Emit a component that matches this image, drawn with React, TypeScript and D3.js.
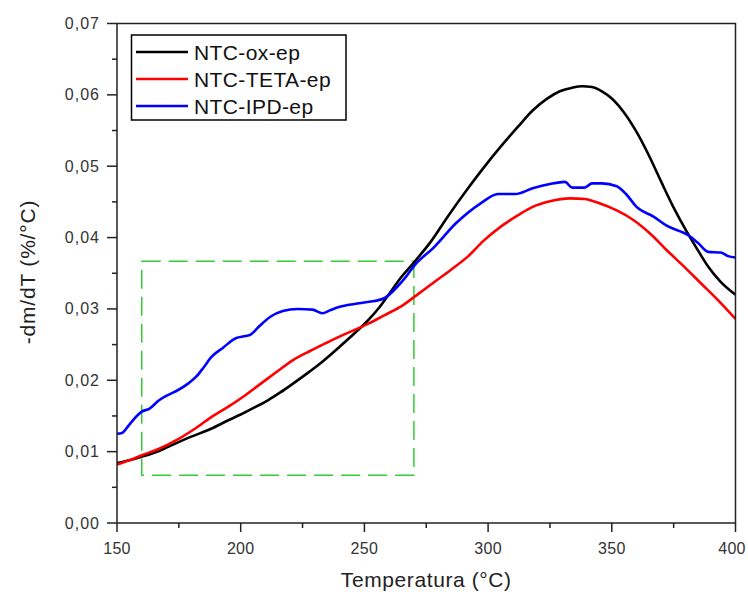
import React from "react";
import * as d3 from "d3";

const seriesNames = ["NTC-ox-ep", "NTC-TETA-ep", "NTC-IPD-ep"];
const seriesColors = ["#000000", "#ff0000", "#0000ff"];

const oxT = [150,155,160,167,174,180,188,195,200,205,211,216,221,227,233,240,247,252,256,260,265,270,277,284,291,298,305,312,318,324,329,334,338,342,346,350,355,360,365,370,375,380,385,389,394,400];
const oxY = [0.0084,0.0088,0.0093,0.0101,0.0112,0.0121,0.0132,0.0144,0.0152,0.0161,0.0172,0.0183,0.0195,0.0210,0.0226,0.0247,0.0269,0.0286,0.0302,0.0321,0.0345,0.0365,0.0395,0.0431,0.0465,0.0497,0.0527,0.0555,0.0578,0.0595,0.0605,0.0610,0.0612,0.0611,0.0605,0.0595,0.0575,0.0548,0.0515,0.0478,0.0442,0.0410,0.0381,0.0359,0.0338,0.0320];

const tetaT = [150,155,160,167,174,181,188,195,201,208,215,221,228,235,241,247,252,258,265,271,278,285,292,298,305,312,318,325,333,339,345,352,359,366,372,379,386,393,400];
const tetaY = [0.0082,0.0088,0.0095,0.0104,0.0116,0.0131,0.0148,0.0163,0.0177,0.0195,0.0213,0.0228,0.0241,0.0253,0.0263,0.0272,0.0280,0.0291,0.0304,0.0319,0.0337,0.0355,0.0374,0.0395,0.0415,0.0431,0.0443,0.0451,0.0455,0.0454,0.0448,0.0438,0.0424,0.0404,0.0383,0.0360,0.0336,0.0312,0.0286];

const ipdT = [150,152,155,158,160,163,167,171,174,179,182,185,188,193,198,202,204,207,212,217,223,229,233,236,240,246,252,258,263,267,270,278,287,297,304,311,318,325,331,334,339,342,346,352,356,360,367,372,381,385,389,394,397,400];
const ipdY = [0.0125,0.0126,0.0138,0.0150,0.0156,0.0160,0.0172,0.0180,0.0185,0.0196,0.0205,0.0218,0.0232,0.0246,0.0259,0.0262,0.0264,0.0274,0.0289,0.0297,0.0300,0.0299,0.0294,0.0298,0.0303,0.0307,0.0310,0.0315,0.0330,0.0346,0.0360,0.0386,0.0420,0.0448,0.0461,0.0461,0.0469,0.0475,0.0478,0.0470,0.0470,0.0476,0.0476,0.0472,0.0460,0.0443,0.0429,0.0417,0.0403,0.0392,0.0380,0.0379,0.0374,0.0372];

const xTicks = [150, 200, 250, 300, 350, 400];
const xMinorTicks = [175, 225, 275, 325, 375];
const yTicks = [0, 0.01, 0.02, 0.03, 0.04, 0.05, 0.06, 0.07];
const yMinorTicks = [0.005, 0.015, 0.025, 0.035, 0.045, 0.055, 0.065];
const zoomBoxX = [160, 270];
const zoomBoxY = [0.00668, 0.03668];

const xLabel = "Temperatura (°C)";
const yLabel = "-dm/dT (%/°C)";

export default function App() {
  const W = 748, H = 592;
  const left = 117, right = 735.5, top = 23.5, bottom = 523;
  const x = d3.scaleLinear().domain([150, 400]).range([left, right]);
  const y = d3.scaleLinear().domain([0, 0.07]).range([bottom, top]);
  const line = d3
    .line<[number, number]>()
    .x((d) => x(d[0]))
    .y((d) => y(d[1]))
    .curve(d3.curveMonotoneX);

  const series = [
    oxT.map((t, i) => [t, oxY[i]] as [number, number]),
    tetaT.map((t, i) => [t, tetaY[i]] as [number, number]),
    ipdT.map((t, i) => [t, ipdY[i]] as [number, number]),
  ];
  const fmt = (v: number) => v.toFixed(2).replace(".", ",");
  const axisColor = "#222";
  const font = "Arial, 'Liberation Sans', sans-serif";

  return (
    <svg
      width={W}
      height={H}
      style={{ position: "absolute", left: 0, top: 0, background: "#fff" }}
      fontFamily={font}
    >
      <defs>
        <clipPath id="plotClip">
          <rect x={left} y={top} width={right - left} height={bottom - top} />
        </clipPath>
      </defs>
      <rect width={W} height={H} fill="#fff" />

      {/* zoom box */}
      <rect
        x={x(zoomBoxX[0])}
        y={y(zoomBoxY[1])}
        width={x(zoomBoxX[1]) - x(zoomBoxX[0])}
        height={y(zoomBoxY[0]) - y(zoomBoxY[1])}
        fill="none"
        stroke="#33cc33"
        strokeWidth={1.5}
        strokeDasharray="19 8"
      />

      {/* curves */}
      <g clipPath="url(#plotClip)">
        {series.map((s, i) => (
          <path
            key={i}
            d={line(s) || ""}
            fill="none"
            stroke={seriesColors[i]}
            strokeWidth={2.6}
            strokeLinejoin="round"
          />
        ))}
      </g>

      {/* frame */}
      <rect
        x={left}
        y={top}
        width={right - left}
        height={bottom - top}
        fill="none"
        stroke={axisColor}
        strokeWidth={1.5}
      />

      {/* x ticks */}
      {xTicks.map((t) => (
        <g key={"xt" + t}>
          <line x1={x(t)} x2={x(t)} y1={bottom} y2={bottom + 9} stroke={axisColor} strokeWidth={1.5} />
          <text
            x={Math.min(x(t), W - 16)}
            y={bottom + 31}
            textAnchor="middle"
            fontSize={16}
            fill="#333"
            letterSpacing={0.3}
          >
            {t}
          </text>
        </g>
      ))}
      {xMinorTicks.map((t) => (
        <line key={"xm" + t} x1={x(t)} x2={x(t)} y1={bottom} y2={bottom + 5} stroke={axisColor} strokeWidth={1.5} />
      ))}

      {/* y ticks */}
      {yTicks.map((t) => (
        <g key={"yt" + t}>
          <line x1={left - 10} x2={left} y1={y(t)} y2={y(t)} stroke={axisColor} strokeWidth={1.5} />
          <text x={left - 17} y={y(t) + 5.5} textAnchor="end" fontSize={16} fill="#333" letterSpacing={1}>
            {fmt(t)}
          </text>
        </g>
      ))}
      {yMinorTicks.map((t) => (
        <line key={"ym" + t} x1={left - 5} x2={left} y1={y(t)} y2={y(t)} stroke={axisColor} strokeWidth={1.5} />
      ))}

      {/* axis titles */}
      <text x={(left + right) / 2} y={587} textAnchor="middle" fontSize={21} fill="#222" letterSpacing={0.6}>
        {xLabel}
      </text>
      <text
        transform={`translate(35, 272) rotate(-90)`}
        textAnchor="middle"
        fontSize={21}
        fill="#222"
        letterSpacing={0.8}
      >
        {yLabel}
      </text>

      {/* legend */}
      <rect x={131.5} y={35} width={214.5} height={85} fill="#fff" stroke="#000" strokeWidth={1.5} />
      {seriesNames.map((n, i) => {
        const ry = 52 + i * 27;
        return (
          <g key={n}>
            <line x1={136} x2={188} y1={ry} y2={ry} stroke={seriesColors[i]} strokeWidth={2.6} />
            <text x={194} y={ry + 7.5} fontSize={21} fill="#111" letterSpacing={0.4}>
              {n}
            </text>
          </g>
        );
      })}
    </svg>
  );
}
